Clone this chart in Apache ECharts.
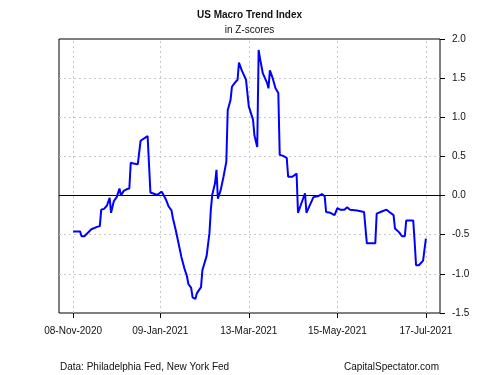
<!DOCTYPE html>
<html>
<head>
<meta charset="utf-8">
<script src="https://cdn.jsdelivr.net/npm/echarts@6/dist/echarts.min.js"></script>
<style>html,body{margin:0;padding:0;background:#fff}#c{width:500px;height:375px}</style>
</head>
<body>
<div id="c"></div>
<script>
var dates = ['2020-11-08','2020-11-13','2020-11-14','2020-11-16','2020-11-21','2020-11-25','2020-11-27','2020-11-28','2020-11-30','2020-12-02','2020-12-04','2020-12-05','2020-12-07','2020-12-09','2020-12-11','2020-12-12','2020-12-14','2020-12-16','2020-12-18','2020-12-19','2020-12-21','2020-12-24','2020-12-26','2020-12-31','2021-01-02','2021-01-05','2021-01-07','2021-01-10','2021-01-11','2021-01-13','2021-01-15','2021-01-17','2021-01-18','2021-01-20','2021-01-22','2021-01-24','2021-01-26','2021-01-28','2021-01-29','2021-01-31','2021-02-01','2021-02-03','2021-02-04','2021-02-07','2021-02-08','2021-02-11','2021-02-13','2021-02-14','2021-02-15','2021-02-17','2021-02-18','2021-02-19','2021-02-21','2021-02-23','2021-02-25','2021-02-26','2021-02-28','2021-03-01','2021-03-03','2021-03-05','2021-03-06','2021-03-08','2021-03-11','2021-03-13','2021-03-16','2021-03-17','2021-03-19','2021-03-20','2021-03-21','2021-03-23','2021-03-26','2021-03-27','2021-03-28','2021-03-30','2021-04-01','2021-04-03','2021-04-04','2021-04-06','2021-04-09','2021-04-10','2021-04-13','2021-04-16','2021-04-17','2021-04-19','2021-04-22','2021-04-23','2021-04-26','2021-04-28','2021-05-01','2021-05-04','2021-05-06','2021-05-07','2021-05-10','2021-05-13','2021-05-15','2021-05-17','2021-05-20','2021-05-22','2021-05-24','2021-05-29','2021-06-03','2021-06-05','2021-06-11','2021-06-12','2021-06-16','2021-06-19','2021-06-21','2021-06-24','2021-06-25','2021-06-28','2021-06-30','2021-07-02','2021-07-03','2021-07-08','2021-07-09','2021-07-10','2021-07-12','2021-07-15','2021-07-17'];
var values = [-0.46,-0.46,-0.52,-0.52,-0.43,-0.40,-0.39,-0.18,-0.17,-0.13,-0.03,-0.22,-0.07,-0.02,0.09,0.00,0.06,0.08,0.09,0.42,0.41,0.40,0.70,0.76,0.04,0.02,0.01,0.05,0.02,-0.05,-0.14,-0.19,-0.29,-0.44,-0.61,-0.78,-0.92,-1.03,-1.13,-1.18,-1.30,-1.32,-1.25,-1.17,-0.95,-0.77,-0.48,-0.18,0.01,0.16,0.33,-0.04,0.07,0.24,0.43,1.09,1.22,1.39,1.44,1.48,1.70,1.60,1.48,1.14,0.97,0.77,0.62,1.86,1.75,1.56,1.44,1.37,1.60,1.50,1.37,1.31,0.52,0.51,0.48,0.24,0.24,0.28,-0.22,-0.12,0.03,-0.22,-0.10,-0.02,-0.01,0.02,-0.01,-0.21,-0.22,-0.25,-0.16,-0.18,-0.18,-0.15,-0.18,-0.19,-0.21,-0.61,-0.61,-0.23,-0.20,-0.18,-0.21,-0.25,-0.42,-0.47,-0.52,-0.52,-0.32,-0.32,-0.59,-0.89,-0.89,-0.83,-0.55];
var tickDates = ['2020-11-08','2021-01-09','2021-03-13','2021-05-15','2021-07-17'];
var tickLabels = ['08-Nov-2020','09-Jan-2021','13-Mar-2021','15-May-2021','17-Jul-2021'];
var yTicks = [-1.5,-1.0,-0.5,0.0,0.5,1.0,1.5,2.0];
var titleText = 'US Macro Trend Index';
var subtitleText = 'in Z-scores';
var sourceText = 'Data: Philadelphia Fed, New York Fed';
var creditText = 'CapitalSpectator.com';

var DAY = 86400000;
var origin = Date.parse(dates[0]);
function dayOf(s){ return Math.round((Date.parse(s) - origin)/DAY); }
var xs = dates.map(dayOf);
var tickDays = tickDates.map(dayOf);
var span = xs[xs.length-1] - xs[0];
var pad = span*0.04;
var labelMap = {};
tickDays.forEach(function(d,i){ labelMap[d] = tickLabels[i]; });
var seriesData = xs.map(function(x,i){ return [x, values[i]]; });
var FONT = 'Liberation Sans';
var TXT = '#111';

var gridMarks = [];
tickDays.forEach(function(d){ gridMarks.push({xAxis: d}); });
yTicks.forEach(function(v){ if (v !== 0 && v !== yTicks[0] && v !== yTicks[yTicks.length-1]) gridMarks.push({yAxis: v}); });

var chart = echarts.init(document.getElementById('c'), null, {renderer:'canvas'});
chart.setOption({
  animation: false,
  backgroundColor: '#fff',
  grid: {left: 59, right: 60, top: 39, bottom: 62, show: true, borderColor: '#000', borderWidth: 1, backgroundColor: 'transparent'},
  graphic: [
    {type:'text', style:{text: titleText, x: 249.5, y: 15, textAlign:'center', textVerticalAlign:'middle', font: 'bold 10px ' + FONT, fill: TXT}},
    {type:'text', style:{text: subtitleText, x: 249.5, y: 30, textAlign:'center', textVerticalAlign:'middle', font: '10px ' + FONT, fill: TXT}},
    {type:'text', style:{text: sourceText, x: 60, y: 367, textAlign:'left', textVerticalAlign:'middle', font: '10px ' + FONT, fill: TXT}},
    {type:'text', style:{text: creditText, x: 439, y: 367, textAlign:'right', textVerticalAlign:'middle', font: '10px ' + FONT, fill: TXT}}
  ],
  xAxis: {
    type: 'value', min: xs[0]-pad, max: xs[xs.length-1]+pad,
    axisLine: {show: false, onZero: false},
    axisTick: {show: true, inside: false, customValues: tickDays, length: 5, lineStyle:{color:'#000'}},
    axisLabel: {customValues: tickDays, margin: 13, fontFamily: FONT, fontSize: 10, color: TXT, formatter: function(v){ return labelMap[Math.round(v)] || ''; }},
    splitLine: {show: false}
  },
  yAxis: {
    type: 'value', position: 'right', min: yTicks[0], max: yTicks[yTicks.length-1], interval: 0.5,
    axisLine: {show: false, onZero: false},
    axisTick: {show: true, inside: false, length: 5, lineStyle:{color:'#000'}},
    axisLabel: {margin: 12, fontFamily: FONT, fontSize: 10, color: TXT, formatter: function(v){ return v.toFixed(1); }},
    splitLine: {show: false}
  },
  series: [
    {type:'line', data: [], silent: true,
      markLine: {silent: true, symbol: 'none', label:{show:false}, lineStyle:{color:'#c8c8c8', type:[2,3], width:1}, data: gridMarks}},
    {type:'line', data: [], silent: true,
      markLine: {silent: true, symbol: 'none', label:{show:false}, lineStyle:{color:'#000', type:'solid', width:1}, data: [{yAxis: 0}]}},
    {type:'line', data: seriesData, showSymbol: false, symbol:'none', lineStyle:{color:'#0000ff', width: 2}, z: 5}
  ]
});
</script>
</body>
</html>
